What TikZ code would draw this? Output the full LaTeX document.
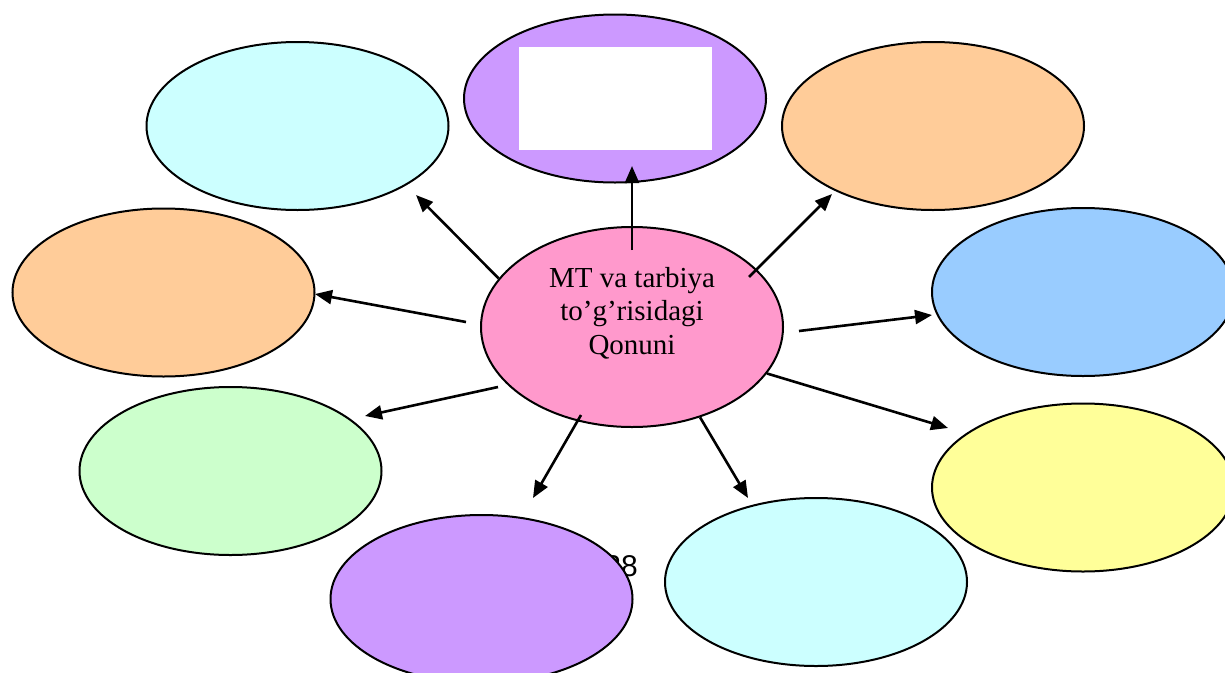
\documentclass[tikz,border=0pt]{standalone}
\usepackage{fontspec}
\setmainfont{Liberation Serif}
\newfontfamily\pagefont{Liberation Sans}
\usetikzlibrary{arrows.meta,shapes.geometric}
\definecolor{lcyan}{HTML}{CCFFFF}
\definecolor{lpurple}{HTML}{CC99FF}
\definecolor{lorange}{HTML}{FFCC99}
\definecolor{lblue}{HTML}{99CCFF}
\definecolor{lgreen}{HTML}{CCFFCC}
\definecolor{lyellow}{HTML}{FFFF99}
\definecolor{lpink}{HTML}{FF99CC}

\begin{document}
\begin{tikzpicture}[x=1pt,y=-1pt,>={Triangle[length=17pt,width=14pt]},main node/.style={ellipse,draw,line width=2pt,minimum width=302pt,minimum height=168pt,inner sep=0pt},link/.style={->,line width=2.6pt}]
                \useasboundingbox (0,0) rectangle (1225,672);
                \node[font=\pagefont\fontsize{30}{30}\selectfont] (p) at (621,566) {28};

                \node[main node,fill=lcyan] (1) at (297.5,126) {};
                \node[main node,fill=lpurple] (2) at (615,98.5) {};
                \node[fill=white,minimum width=193pt,minimum height=103pt,inner sep=0pt] (2r) at (615.5,98.5) {};
                \node[main node,fill=lorange] (3) at (933,126) {};
                \node[main node,fill=lblue] (4) at (1083,292) {};
                \node[main node,fill=lyellow] (5) at (1083,487.5) {};
                \node[main node,fill=lcyan] (6) at (816,582) {};
                \node[main node,fill=lpurple] (7) at (481.5,599) {};
                \node[main node,fill=lgreen] (8) at (230.5,471) {};
                \node[main node,fill=lorange] (9) at (163.5,292.5) {};

                \node[main node,fill=lpink,minimum height=200pt] (0) at (632,327) {};
                \node[align=center,font=\fontsize{29}{33.5}\selectfont] (0t) at (632,313) {MT va tarbiya\\to’g’risidagi\\Qonuni};

                % arrow ends
                \coordinate (s2) at (632,250);
                \coordinate (s3) at (749,277);
                \coordinate (s4) at (799,331);
                \coordinate (s7) at (581,415);
                \coordinate (s8) at (498,387);
                \coordinate (s9) at (466,322);
                \coordinate (t1) at (416,195);
                \coordinate (t2) at (632,166);
                \coordinate (t3) at (832,194);
                \coordinate (t4) at (932,315);
                \coordinate (t5) at (948,428);
                \coordinate (t6) at (748,498);
                \coordinate (t7) at (533,498);
                \coordinate (t8) at (365,416);
                \coordinate (t9) at (315,294);

                \path[link]
                    (0.160) edge (t1)
                    (s2) edge (t2)
                    (s3) edge (t3)
                    (s4) edge (t4)
                    (0.341) edge (t5)
                    (0.307) edge (t6)
                    (s7) edge (t7)
                    (s8) edge (t8)
                    (s9) edge (t9)
                    ;
            \end{tikzpicture}
\end{document}
